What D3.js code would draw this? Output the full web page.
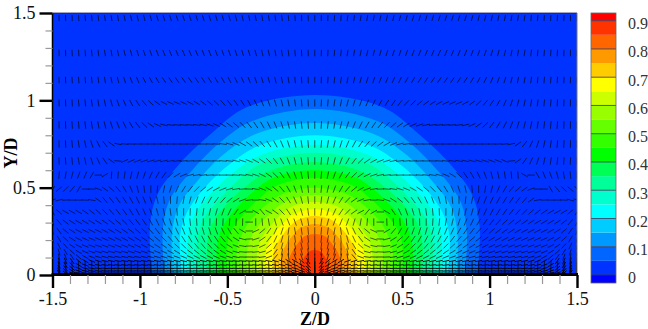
<!DOCTYPE html>
<html lang="en">

<head>
  <meta charset="utf-8">
  <title>Z/D contour</title>
  <script src="https://d3js.org/d3.v7.min.js" charset="utf-8"></script>
  <style type="text/css">
    body { margin: 0; background: #fff; }
    text { font-family: "Liberation Serif", serif; }
  </style>
</head>

<body>

  <svg id="chart" class="chart"></svg>

  <script type="text/javascript">
    // legend, low to high
    const legendLevels = [0, 0.05, 0.1, 0.15, 0.2, 0.25, 0.3, 0.35, 0.4, 0.45, 0.5, 0.55, 0.6, 0.65, 0.7, 0.75, 0.8, 0.85, 0.9];
    const bandColors = ["#0033ff", "#0066ff", "#0099ff", "#00ccff", "#00ffff", "#00ffcc", "#00ff99", "#00ff55", "#00ff00", "#33ff00",
      "#66ff00", "#99ff00", "#ccff00", "#ffff00", "#ffcc00", "#ff9900", "#ff6600", "#ff3300", "#ff0000"];
    const legendTicks = [0, 0.1, 0.2, 0.3, 0.4, 0.5, 0.6, 0.7, 0.8, 0.9];
    const xTicks = [-1.5, -1, -0.5, 0, 0.5, 1, 1.5];
    const yTicks = [0, 0.5, 1, 1.5];

    // contour outlines, right half only [z, y], from the apex down to the wall
    const outlines = [
      [[0, 1.03], [.39, .96], [.58, .82], [.77, .64], [.90, .46], [.943, .28], [.93, 0]],
      [[0, .95], [.36, .88], [.54, .76], [.71, .59], [.83, .43], [.869, .26], [.86, 0]],
      [[0, .87], [.33, .81], [.51, .70], [.67, .54], [.78, .39], [.817, .23], [.81, 0]],
      [[0, .80], [.32, .74], [.48, .64], [.63, .50], [.73, .36], [.771, .22], [.76, 0]],
      [[0, .745], [.30, .69], [.45, .60], [.60, .46], [.69, .34], [.726, .20], [.72, 0]],
      [[0, .70], [.28, .65], [.42, .56], [.55, .43], [.64, .315], [.674, .19], [.67, 0]],
      [[0, .647], [.25, .60], [.38, .52], [.51, .40], [.59, .29], [.617, .17], [.61, 0]],
      [[0, .60], [.23, .56], [.35, .48], [.46, .37], [.53, .27], [.56, .16], [.555, 0]],
      [[0, .555], [.21, .515], [.31, .445], [.41, .345], [.48, .25], [.503, .15], [.50, 0]],
      [[0, .50], [.18, .465], [.28, .40], [.37, .31], [.42, .225], [.446, .135], [.44, 0]],
      [[0, .458], [.16, .425], [.24, .365], [.32, .285], [.37, .205], [.389, .125], [.385, 0]],
      [[0, .418], [.136, .39], [.205, .335], [.27, .26], [.315, .19], [.331, .11], [.33, 0]],
      [[0, .378], [.117, .35], [.177, .30], [.235, .235], [.27, .17], [.286, .10], [.283, 0]],
      [[0, .338], [.098, .315], [.149, .27], [.197, .21], [.228, .152], [.24, .09], [.238, 0]],
      [[0, .292], [.08, .27], [.12, .234], [.16, .18], [.184, .13], [.194, .08], [.192, 0]],
      [[0, .235], [.061, .22], [.092, .188], [.122, .146], [.142, .106], [.149, .063], [.148, 0]],
      [[0, .143], [.033, .133], [.05, .114], [.066, .089], [.076, .064], [.08, .039], [.08, 0]]
    ];

    // vector grid, right half; left half is its mirror
    const columnZ = [0, .0375, .075, .1125, .15, .1875, .225, .2625, .3, .3375, .375, .4125, .45, .4875, .525, .5625, .6, .6375, .675, .7125,
      .75, .7875, .825, .8625, .9, .9375, .975, 1.0125, 1.05, 1.0875, 1.125, 1.1625, 1.2, 1.2375, 1.275, 1.3125, 1.35, 1.3875, 1.425, 1.4625, 1.5];
    const rowY = [1.471, 1.271, 1.116, .985, .859, .75, .653, .572, .492, .429, .361, .303, .252, .206, .166, .132, .103, .08, .057, .04, .023, .011, .038];
    const rowLength = [6, 6.5, 6.5, 7, 7.5, 7.5, 7.5, 7.5, 7.5, 7.5, 7.5, 7.5, 7.5, 7.5, 7, 7, 7, 7, 7, 14, 7, 7, 7];
    const rowWeight = [.65, .65, .65, .65, .65, .65, .6, .6, .6, .6, .6, .6, .6, .6, .6, .65, .7, .9, .9, .7, 1, 1, .9];
    // tilt from vertical in degrees, one line per row of rowY
    const rowAngles = [
      [0, 1, 2, 4, 5, 7, 8, 9, 10, 11, 12, 13, 14, 15, 15, 16, 16, 17, 17, 18, 18, 18, 17, 17, 16, 15, 14, 13, 12, 11, 10, 9, 8, 6, 5, 4, 3, 2, 2, 1, 0],
      [0, 2, 3, 5, 7, 9, 10, 12, 13, 15, 16, 17, 18, 19, 20, 21, 22, 22, 23, 23, 23, 23, 22, 22, 21, 20, 19, 17, 15, 14, 12, 10, 9, 7, 6, 5, 4, 3, 2, 1, 0],
      [0, 2, 4, 6, 9, 11, 13, 15, 17, 19, 21, 23, 25, 27, 29, 30, 32, 33, 34, 35, 35, 35, 34, 33, 31, 29, 26, 23, 20, 17, 14, 12, 10, 8, 6, 5, 4, 3, 2, 1, 0],
      [0, 3, 5, 8, 11, 14, 17, 20, 23, 26, 29, 32, 35, 38, 42, 46, 50, 54, 58, 62, 65, 67, 66, 62, 55, 47, 40, 34, 28, 23, 19, 15, 12, 10, 8, 6, 5, 3, 2, 1, 0],
      [0, 4, 7, 10, 14, 18, 22, 26, 30, 34, 39, 44, 49, 54, 60, 66, 72, 78, 82, 84, 85, 85, 82, 76, 66, 55, 46, 38, 31, 26, 21, 17, 14, 11, 9, 7, 5, 4, 2, 1, 0],
      [0, 5, 9, 13, 18, 23, 28, 34, 40, 47, 54, 61, 68, 75, 82, 86, 88, 89, 90, 90, 90, 90, 90, 90, 90, 90, 90, 90, 88, 85, 78, 55, 38, 26, 18, 12, 8, 5, 3, 1, 0],
      [0, 5, 10, 15, 22, 30, 38, 46, 55, 62, 68, 73, 78, 82, 85, 87, 88, 90, 92, 94, 96, 98, 100, 102, 104, 106, 108, 110, 112, 114, 85, 55, 35, 25, 18, 12, 9, 6, 4, 2, 0],
      [0, 6, 12, 20, 28, 37, 46, 55, 64, 72, 78, 83, 86, 88, 90, 92, 94, 97, 100, 105, 112, 122, 135, 145, 150, 155, 160, 165, 168, 172, 175, 176, 120, 90, 150, 158, 160, 165, 170, 175, 180],
      [0, 6, 13, 21, 30, 40, 50, 60, 70, 80, 88, 94, 100, 106, 112, 118, 124, 130, 136, 142, 148, 155, 162, 168, 175, 180, 188, 194, 202, 210, 220, 228, 235, 250, 270, 270, 150, 140, 135, 130, 140],
      [0, 7, 15, 24, 33, 43, 55, 68, 80, 90, 98, 110, 122, 130, 138, 144, 150, 155, 160, 165, 170, 175, 180, 186, 192, 198, 202, 206, 209, 212, 215, 218, 220, 235, 260, 268, 270, 270, 272, 285, 290],
      [0, 8, 16, 25, 34, 44, 55, 62, 40, 60, 90, 120, 145, 155, 160, 164, 168, 172, 175, 178, 180, 184, 188, 192, 196, 200, 204, 208, 212, 215, 218, 221, 224, 228, 232, 236, 240, 242, 240, 230, 210],
      [0, 8, 15, 20, 22, 20, 16, 10, 5, 0, 90, 178, 176, 176, 177, 178, 179, 180, 183, 186, 190, 194, 198, 202, 206, 210, 214, 218, 222, 226, 230, 233, 236, 238, 240, 240, 240, 238, 232, 220, 200],
      [0, 5, 8, 10, -8, -18, -25, -35, -50, -65, -90, -120, -140, -150, -155, -160, -162, -164, -164, -162, -158, -154, -150, -146, -142, -138, -134, -131, -128, -125, -122, -120, -118, -117, -116, -116, -118, -122, -130, -145, -165],
      [0, 6, 10, 8, -5, -15, -25, -38, -55, -72, -88, -105, -122, -132, -140, -146, -150, -152, -152, -150, -147, -143, -139, -135, -131, -128, -125, -122, -120, -118, -116, -115, -114, -113, -113, -114, -117, -122, -132, -150, -170],
      [0, 7, 12, 10, -2, -14, -30, -48, -65, -78, -88, -100, -112, -122, -130, -135, -139, -140, -140, -138, -135, -132, -128, -125, -122, -119, -117, -115, -113, -112, -111, -110, -109, -109, -110, -112, -116, -124, -138, -155, -172],
      [0, 8, 14, 12, 2, -12, -35, -60, -75, -84, -88, -95, -105, -113, -120, -125, -128, -129, -128, -126, -124, -121, -118, -115, -113, -111, -109, -108, -107, -106, -105, -105, -105, -106, -108, -112, -120, -132, -148, -164, -175],
      [0, 10, 18, 20, 10, -10, -40, -70, -82, -88, -90, -92, -100, -106, -110, -114, -116, -116, -116, -114, -112, -110, -108, -106, -105, -104, -103, -102, -102, -102, -102, -102, -104, -106, -110, -118, -130, -145, -160, -170, -177],
      [0, 30, 50, 60, 60, 70, 75, 80, 82, 84, 85, 85, 85, 84, 82, 80, 80, 79, 78, 78, 78, 78, 78, 79, 79, 80, 80, 80, 80, 80, 80, 78, 76, 72, 68, 60, 48, 35, 22, 12, 3],
      [0, 40, 60, 70, 74, 78, 80, 82, 84, 85, 86, 86, 86, 85, 85, 84, 84, 84, 84, 84, 84, 84, 84, 84, 84, 84, 84, 84, 84, 84, 84, 84, 82, 80, 76, 70, 60, 45, 30, 16, 3],
      [0, 6, 10, 8, 5, 4, 3, 2, 2, 1, 1, 1, 1, 1, 1, 0, 0, 0, 0, 0, 0, 0, 0, 0, 0, 0, 0, 0, 0, 0, 0, 0, 0, 1, 1, 2, 3, 4, 5, 4, 2],
      [0, 50, 70, 78, 82, 85, 86, 87, 88, 88, 88, 88, 88, 88, 88, 88, 88, 88, 88, 88, 88, 88, 88, 88, 88, 88, 88, 88, 88, 88, 88, 88, 86, 84, 82, 78, 70, 55, 40, 22, 4],
      [0, 50, 70, 80, 84, 86, 88, 88, 89, 89, 89, 89, 89, 89, 89, 89, 89, 89, 89, 89, 89, 89, 89, 89, 89, 89, 89, 89, 89, 89, 89, 89, 88, 88, 86, 84, 80, 70, 50, 30, 5],
      [0, 45, 65, 75, 80, 84, 85, 86, 87, 88, 88, 88, 88, 88, 88, 88, 88, 88, 88, 88, 88, 88, 88, 88, 88, 88, 88, 88, 88, 88, 88, 88, 85, 83, 80, 75, 65, 50, 35, 18, 3]
    ];

    const maxWidth = 648;
    const maxHeight = 329;
    const plot = { left: 52.5, right: 577, top: 13, bottom: 275 };

    const svg = d3.select("#chart")
      .attr("width", maxWidth)
      .attr("height", maxHeight)
      .style("display", "block");

    const xScale = d3.scaleLinear().domain([-1.5, 1.5]).range([plot.left, plot.right]);
    const yScale = d3.scaleLinear().domain([0, 1.5]).range([plot.bottom, plot.top]);
    const legendScale = d3.scaleLinear().domain([0, 0.9]).range([275, 20.7]);

    svg.append("clipPath").attr("id", "plotClip")
      .append("rect")
      .attr("x", plot.left).attr("y", plot.top)
      .attr("width", plot.right - plot.left).attr("height", plot.bottom - plot.top);

    const field = svg.append("g").attr("clip-path", "url(#plotClip)");

    field.append("rect")
      .attr("x", plot.left).attr("y", plot.top)
      .attr("width", plot.right - plot.left).attr("height", plot.bottom - plot.top)
      .attr("fill", bandColors[0]);

    const outlinePath = d3.line()
      .x((d) => xScale(d[0]))
      .y((d) => yScale(d[1]))
      .curve(d3.curveCatmullRom);

    field.selectAll(".band")
      .data(outlines)
      .enter()
      .append("path")
      .attr("class", "band")
      .attr("d", (d) => {
        const left = d.slice(1).reverse().map((p) => [-p[0], p[1]]);
        return outlinePath(left.concat(d)) + "Z";
      })
      .attr("fill", (d, i) => bandColors[i + 1]);

    // vectors
    const vectors = [];
    rowAngles.forEach((angles, r) => {
      angles.forEach((a, c) => {
        vectors.push({ z: columnZ[c], y: rowY[r], a: a, len: rowLength[r], w: rowWeight[r] });
        if (c > 0) vectors.push({ z: -columnZ[c], y: rowY[r], a: -a, len: rowLength[r], w: rowWeight[r] });
      });
    });

    const rad = (d) => d.a * Math.PI / 180;
    field.selectAll(".vec")
      .data(vectors)
      .enter()
      .append("line")
      .attr("class", "vec")
      .attr("x1", (d) => xScale(d.z) - Math.sin(rad(d)) * d.len / 2)
      .attr("y1", (d) => yScale(d.y) + Math.cos(rad(d)) * d.len / 2)
      .attr("x2", (d) => xScale(d.z) + Math.sin(rad(d)) * d.len / 2)
      .attr("y2", (d) => yScale(d.y) - Math.cos(rad(d)) * d.len / 2)
      .attr("stroke", "#000")
      .attr("stroke-width", (d) => d.w);

    // frame
    svg.append("line").attr("x1", plot.left).attr("x2", plot.right).attr("y1", plot.top).attr("y2", plot.top)
      .attr("stroke", "#1a1a50").attr("stroke-width", 0.8);
    svg.append("line").attr("x1", plot.right).attr("x2", plot.right).attr("y1", plot.top).attr("y2", plot.bottom)
      .attr("stroke", "#777").attr("stroke-width", 1);
    svg.append("line").attr("x1", plot.left - 1).attr("x2", plot.right + 1).attr("y1", plot.bottom - 0.5).attr("y2", plot.bottom - 0.5)
      .attr("stroke", "#000").attr("stroke-width", 3);
    svg.append("line").attr("x1", plot.left).attr("x2", plot.left).attr("y1", plot.top).attr("y2", plot.bottom)
      .attr("stroke", "#000").attr("stroke-width", 1.5);

    // minor ticks
    const minorX = d3.axisBottom(xScale).ticks(30).tickSize(9).tickFormat("");
    const minorY = d3.axisLeft(yScale).ticks(15).tickSize(7).tickFormat("");
    svg.append("g").attr("transform", `translate(0,${plot.bottom})`).call(minorX)
      .call((g) => g.select(".domain").remove())
      .selectAll("line").attr("stroke", "#999").attr("stroke-width", 1.2);
    svg.append("g").attr("transform", `translate(${plot.left},0)`).call(minorY)
      .call((g) => g.select(".domain").remove())
      .selectAll("line").attr("stroke", "#999").attr("stroke-width", 1.2);

    // major ticks
    const xAxis = svg.append("g").attr("transform", `translate(0,${plot.bottom})`)
      .call(d3.axisBottom(xScale).tickValues(xTicks).tickSize(13).tickPadding(4).tickFormat((d) => d));
    const yAxis = svg.append("g").attr("transform", `translate(${plot.left},0)`)
      .call(d3.axisLeft(yScale).tickValues(yTicks).tickSize(13).tickPadding(4).tickFormat((d) => d));
    [xAxis, yAxis].forEach((g) => {
      g.select(".domain").remove();
      g.selectAll("line").attr("stroke", "#000").attr("stroke-width", 2.4);
      g.selectAll("text").attr("font-size", 18).attr("fill", "#111").style("font-family", '"Liberation Serif", serif');
    });

    svg.append("text")
      .attr("x", 315).attr("y", 325)
      .attr("text-anchor", "middle")
      .attr("font-weight", "bold").attr("font-size", 18)
      .text("Z/D");

    svg.append("text")
      .attr("transform", "translate(17,153) rotate(-90)")
      .attr("text-anchor", "middle")
      .attr("font-weight", "bold").attr("font-size", 18)
      .text("Y/D");

    // legend
    const legendX = 591;
    const legendW = 25;
    const legend = svg.append("g");
    legend.selectAll("rect")
      .data(bandColors.map((c, i) => ({ c: c, i: i })))
      .enter()
      .append("rect")
      .attr("x", legendX)
      .attr("width", legendW)
      .attr("y", (d) => d.i == bandColors.length - 1 ? 13 : legendScale(legendLevels[d.i + 1]))
      .attr("height", (d) => legendScale(legendLevels[d.i]) - (d.i == bandColors.length - 1 ? 13 : legendScale(legendLevels[d.i + 1])))
      .attr("fill", (d) => d.c);
    legend.append("rect")
      .attr("x", legendX).attr("y", 275)
      .attr("width", legendW).attr("height", 8)
      .attr("fill", "#0000ff");
    legend.selectAll(".mark")
      .data(legendTicks)
      .enter()
      .append("line")
      .attr("class", "mark")
      .attr("x1", legendX).attr("x2", legendX + legendW)
      .attr("y1", (d) => legendScale(d)).attr("y2", (d) => legendScale(d))
      .attr("stroke", "#335").attr("stroke-width", 0.8);
    legend.append("rect")
      .attr("x", legendX).attr("y", 13)
      .attr("width", legendW).attr("height", 270)
      .attr("fill", "none").attr("stroke", "#666").attr("stroke-width", 0.8);
    legend.selectAll(".lab")
      .data(legendTicks)
      .enter()
      .append("text")
      .attr("class", "lab")
      .attr("x", 628)
      .attr("y", (d) => legendScale(d) + 8.3)
      .attr("font-size", 16)
      .attr("fill", "#333")
      .text((d) => d);
  </script>
</body>

</html>
